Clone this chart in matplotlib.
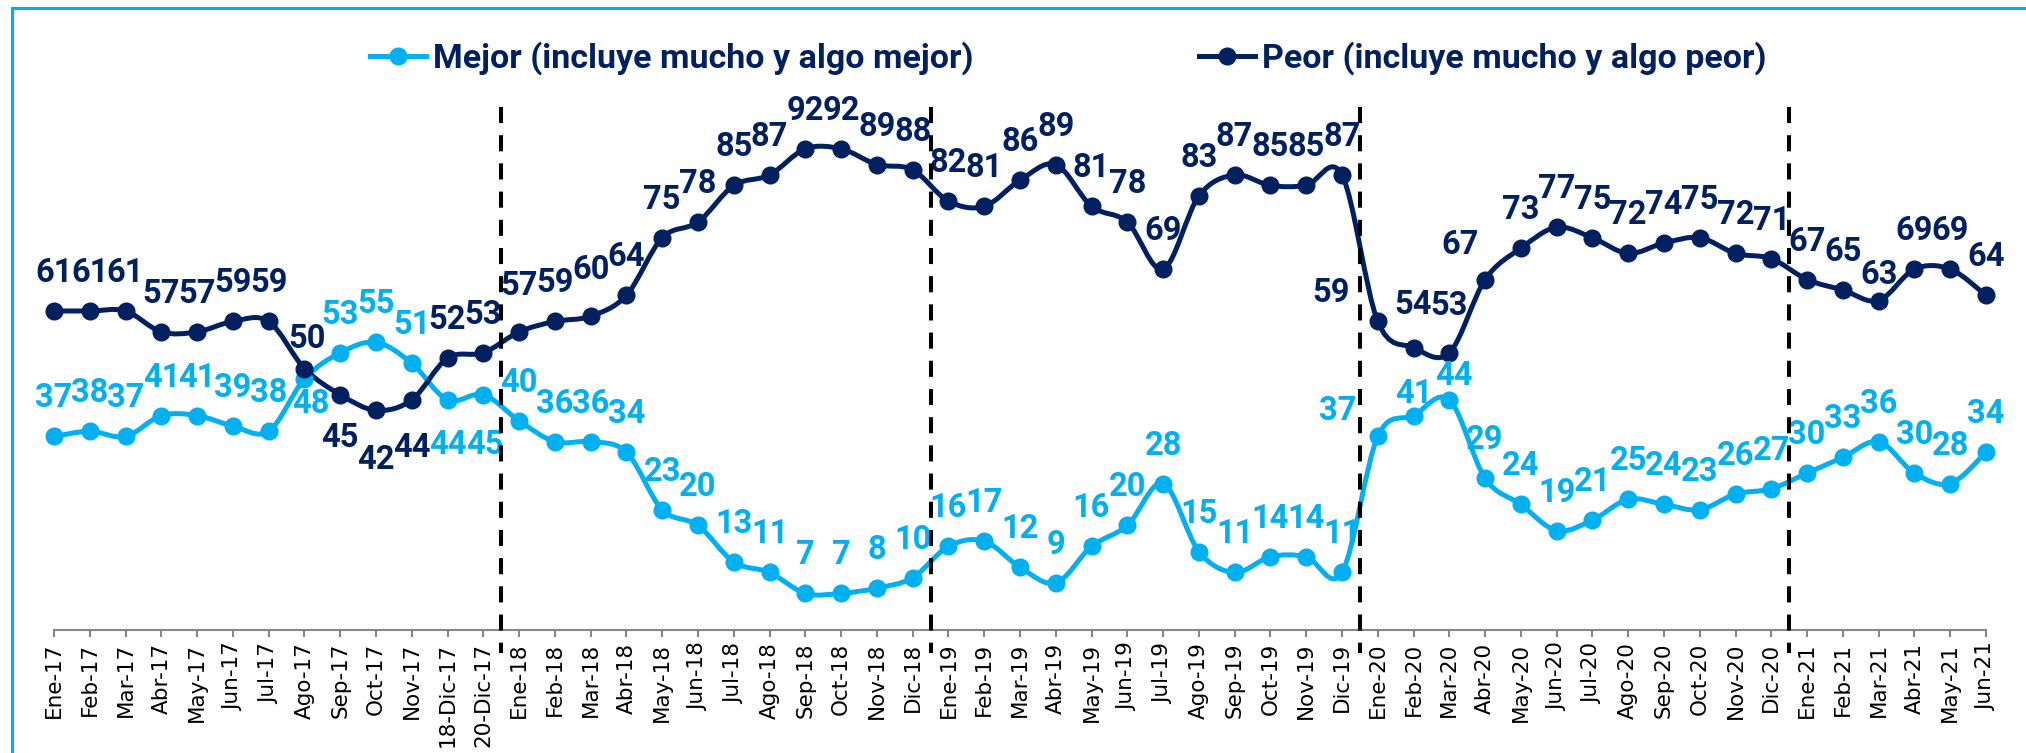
import numpy as np
import matplotlib
matplotlib.use('Agg')
import matplotlib.pyplot as plt
from matplotlib.path import Path
from matplotlib.patches import PathPatch, Rectangle
from matplotlib.lines import Line2D

# categories (x axis)
periodos = ['Ene-17', 'Feb-17', 'Mar-17', 'Abr-17', 'May-17', 'Jun-17', 'Jul-17',
            'Ago-17', 'Sep-17', 'Oct-17', 'Nov-17', '18-Dic-17', '20-Dic-17',
            'Ene-18', 'Feb-18', 'Mar-18', 'Abr-18', 'May-18', 'Jun-18', 'Jul-18',
            'Ago-18', 'Sep-18', 'Oct-18', 'Nov-18', 'Dic-18',
            'Ene-19', 'Feb-19', 'Mar-19', 'Abr-19', 'May-19', 'Jun-19', 'Jul-19',
            'Ago-19', 'Sep-19', 'Oct-19', 'Nov-19', 'Dic-19',
            'Ene-20', 'Feb-20', 'Mar-20', 'Abr-20', 'May-20', 'Jun-20', 'Jul-20',
            'Ago-20', 'Sep-20', 'Oct-20', 'Nov-20', 'Dic-20',
            'Ene-21', 'Feb-21', 'Mar-21', 'Abr-21', 'May-21', 'Jun-21']

mejor = [37, 38, 37, 41, 41, 39, 38, 48, 53, 55, 51, 44, 45,
         40, 36, 36, 34, 23, 20, 13, 11, 7, 7, 8, 10,
         16, 17, 12, 9, 16, 20, 28, 15, 11, 14, 14, 11,
         37, 41, 44, 29, 24, 19, 21, 25, 24, 23, 26, 27,
         30, 33, 36, 30, 28, 34]

peor = [61, 61, 61, 57, 57, 59, 59, 50, 45, 42, 44, 52, 53,
        57, 59, 60, 64, 75, 78, 85, 87, 92, 92, 89, 88,
        82, 81, 86, 89, 81, 78, 69, 83, 87, 85, 85, 87,
        59, 54, 53, 67, 73, 77, 75, 72, 74, 75, 72, 71,
        67, 65, 63, 69, 69, 64]

# year breaks (dashed separators sit between these categories)
cortes = ['20-Dic-17', 'Dic-18', 'Dic-19', 'Dic-20']

mejor_label = 'Mejor (incluye mucho y algo mejor)'
peor_label = 'Peor (incluye mucho y algo peor)'

# colours
c_mejor = '#00B0F0'
c_peor = '#002060'

# label placement (pixels), default is above the point
off_mejor = {7: (6, -25), 11: (0, -45), 12: (2, -50), 37: (-40, 25),
             38: (0, 22), 39: (5, 24)}
off_peor = {7: (3, 30), 8: (0, -43), 9: (0, -50), 10: (0, -48), 13: (0, 46), 15: (0, 46),
            37: (-47, 28), 38: (0, 43), 39: (0, 47), 40: (-25, 35), 51: (0, 26)}
off_default = (0, 38)

lab_font = ['Roboto', 'DejaVu Sans']


def smooth_path(xs, ys):
    # catmull-rom style bezier like excel's smoothed line
    pts = np.column_stack([xs, ys]).astype(float)
    verts = [pts[0]]
    codes = [Path.MOVETO]
    n = len(pts)
    for i in range(n - 1):
        p0 = pts[i - 1] if i > 0 else pts[i]
        p1 = pts[i]
        p2 = pts[i + 1]
        p3 = pts[i + 2] if i + 2 < n else pts[i + 1]
        verts += [p1 + (p2 - p0) / 6, p2 - (p3 - p1) / 6, p2]
        codes += [Path.CURVE4] * 3
    return Path(verts, codes)


W, H = 2026, 753
fig = plt.figure(figsize=(W / 100, H / 100), dpi=100)
ax = fig.add_axes([54 / W, 1 - 630 / H, (1986 - 54) / W, (630 - 107) / H])

x = np.arange(len(periodos))

for vals, col, offs in [(mejor, c_mejor, off_mejor), (peor, c_peor, off_peor)]:
    ax.add_patch(PathPatch(smooth_path(x, vals), facecolor='none', edgecolor=col,
                           lw=3.6, capstyle='round', joinstyle='round', clip_on=False, zorder=3))
    ax.plot(x, vals, 'o', color=col, ms=12, clip_on=False, zorder=4)
    for i, v in enumerate(vals):
        dx, dy = offs.get(i, off_default)
        ax.annotate(str(v), (x[i], v), xytext=(dx, dy), textcoords='offset pixels',
                    ha='center', va='center', fontsize=23.5, fontweight='bold',
                    family=lab_font, color=col, zorder=5)

# dashed separators, drawn from the top down
for c in cortes:
    xc = periodos.index(c) + 0.5
    ax.plot([xc, xc], [1.0, -0.044], transform=ax.get_xaxis_transform(),
            color='black', lw=2.9, linestyle=(0, (4, 3)), clip_on=False, zorder=6)

ax.set_xlim(0, len(periodos) - 1)
ax.set_ylim(0, 100)
ax.set_xticks(x)
ax.set_xticklabels(periodos, rotation=90, fontsize=15.5, family='DejaVu Sans')
ax.tick_params(axis='x', length=5, width=1.5, color='#868686', pad=4)
ax.set_yticks([])
for s in ['top', 'right', 'left']:
    ax.spines[s].set_visible(False)
ax.spines['bottom'].set_color('#868686')
ax.spines['bottom'].set_linewidth(1.5)

# legend, two entries placed separately
for lab, col, xpos in [(mejor_label, c_mejor, 370 / W), (peor_label, c_peor, 1199 / W)]:
    h = Line2D([], [], color=col, lw=3.6, marker='o', ms=12)
    fig.legend(handles=[h], labels=[lab], loc='center left', bbox_to_anchor=(xpos, 1 - 58 / H),
               frameon=False, borderpad=0, borderaxespad=0, handlelength=1.65,
               handletextpad=0.2, prop={'family': lab_font, 'weight': 'bold', 'size': 24.5},
               labelcolor=c_peor)

# outer border of the chart area
fig.add_artist(Rectangle((12 / W, -0.1), 1.2, 1 - 8 / H + 0.1, transform=fig.transFigure,
                         fill=False, edgecolor=c_mejor, lw=2.2))

fig.savefig('out.png', dpi=100)
